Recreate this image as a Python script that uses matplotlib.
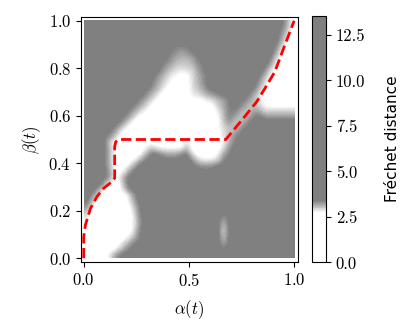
import numpy as np
import matplotlib.pyplot as plt
from matplotlib.colors import LinearSegmentedColormap

plt.rcParams['font.family'] = 'serif'
plt.rcParams['font.serif'] = ['cmr10']
plt.rcParams['mathtext.fontset'] = 'cm'
plt.rcParams['axes.formatter.use_mathtext'] = True

# optimal coupling path through the free space
alpha_path = [0.0, 0.0, 0.008, 0.032, 0.063, 0.095, 0.134, 0.147, 0.147, 0.152, 0.166,
              0.675, 0.75, 0.822, 0.861, 0.908, 0.956, 1.0]
beta_path = [0.0, 0.09, 0.14, 0.21, 0.26, 0.295, 0.322, 0.337, 0.47, 0.49, 0.5,
             0.5, 0.58, 0.659, 0.715, 0.785, 0.898, 1.0]

# distance levels on a 40x40 grid, top row = beta 1.0
# 0 = inside free space (white) ... 9 = far outside (grey)
free_space_rows = [
    "9999999999 9999999999 9999999999 9999999961",
    "9999999999 9999999999 9999999999 9999999851",
    "9999999999 9999999999 9999999999 9999999730",
    "9999999999 9999999999 9999999999 9999999610",
    "9999999999 9999999888 9999999999 9999998300",
    "9999999999 9999998767 8999999999 9999996100",
    "9999999999 9999997655 6899999999 9999983000",
    "9999999999 9999976444 5789999999 9999961000",
    "9999999999 9999864323 3689999999 9999720000",
    "9999999999 9998642100 3578999999 9998410000",
    "9999999999 9997531000 3579999999 9996200000",
    "9999999999 9986410000 3468999999 9984100000",
    "9999999999 9864100000 2346789999 9852000000",
    "9999999999 8641000000 1012356899 8642100000",
    "9999999998 6410000000 0000146898 6453111111",
    "9999999986 3100000000 0000025886 4576444444",
    "9999999862 0000000000 0000015864 5799888888",
    "9999998620 0000000000 0000014645 7999999999",
    "9999985100 0000000000 0000013457 9999999999",
    "9999862000 0000000000 0000003579 9999999999",
    "9999610000 0000000003 0000002589 9999999999",
    "9999720000 0143111115 0000003799 9999999999",
    "9999720000 0489866689 3000026899 9999999999",
    "9999720001 5899999999 8422248999 9999999999",
    "9999720026 9999999999 9877899999 9999999999",
    "9999830269 9999999999 9999999999 9999999999",
    "9999831699 9999999999 9999999999 9999999999",
    "9998300599 9999999999 9999999999 9999999999",
    "9983000389 9999999999 9999999999 9999999999",
    "9830000027 9999999999 9999999999 9999999999",
    "9500000026 9999999999 9999999999 9999999999",
    "7200000004 8999999999 9999999999 9999999999",
    "4000000003 8999999999 9999998999 9999999999",
    "2000000002 7999999999 9999996999 9999999999",
    "1000000002 7999999999 9999994999 9999999999",
    "0000000003 8999999999 9999993999 9999999999",
    "0000000025 8999999999 9999994999 9999999999",
    "0000000368 9999999999 9999996999 9999999999",
    "0000003689 9999999999 9999998999 9999999999",
    "0000158999 9999999999 9999999999 9999999999",
]
cbar_ticks = [0.0, 2.5, 5.0, 7.5, 10.0, 12.5]
vmax = 13.56

levels = np.array([[int(ch) for ch in row.replace(' ', '')] for row in free_space_rows])
dist = 2.6 + 0.1 * levels

cmap = LinearSegmentedColormap.from_list(
    'freespace', [(0, 'white'), (2.7 / vmax, 'white'), (3.4 / vmax, '#808080'), (1, '#808080')])

fig = plt.figure(figsize=(4.12, 3.36), dpi=100)
ax = fig.add_axes([0.1966, 0.2202, 0.5255, 0.730])
cax = fig.add_axes([0.758, 0.2188, 0.0333, 0.7345])

im = ax.imshow(dist, extent=(0, 1, 0, 1), origin='upper', cmap=cmap, vmin=0, vmax=vmax,
               interpolation='bicubic', interpolation_stage='data', aspect='auto')
ax.plot(alpha_path, beta_path, 'r--', lw=2)

ax.set_xlim(-0.013, 1.016)
ax.set_ylim(-0.016, 1.017)
ax.set_xticks([0, 0.5, 1.0])
ax.set_yticks([0, 0.2, 0.4, 0.6, 0.8, 1.0])
ax.set_xlabel(r'$\alpha(t)$', fontsize=12, labelpad=7)
ax.set_ylabel(r'$\beta(t)$', fontsize=12)
ax.tick_params(labelsize=12)

cbar = fig.colorbar(im, cax=cax, ticks=cbar_ticks, format='%.1f')
cbar.ax.tick_params(labelsize=12)
cbar.set_label('Fréchet distance', family='DejaVu Sans', fontsize=11, labelpad=14)

fig.savefig('out.png', dpi=100)
